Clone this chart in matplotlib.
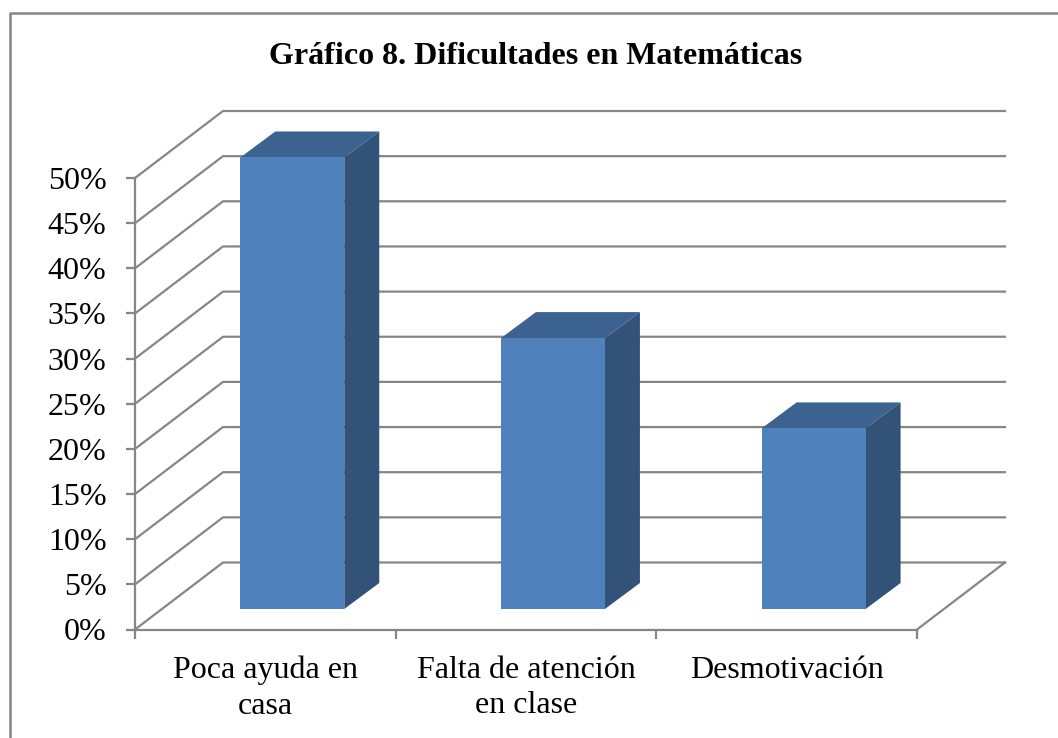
import matplotlib
matplotlib.use('Agg')
import matplotlib.pyplot as plt

categories = ['Poca ayuda en\ncasa', 'Falta de atención\nen clase', 'Desmotivación']
values = [50, 30, 20]
y_ticks = [0, 5, 10, 15, 20, 25, 30, 35, 40, 45, 50]

W, H = 1058, 738
GREY = '#868686'
FRONT = '#4F81BD'
TOP = '#3C6290'
SIDE = '#325278'

plt.rcParams['font.family'] = ['Liberation Serif', 'DejaVu Serif']

fig = plt.figure(figsize=(W / 100, H / 100), dpi=100)

# outer border, only top and left are in the picture
fig.add_artist(plt.Line2D([9.5 / W, 9.5 / W, 1], [0, 1 - 12.5 / H, 1 - 12.5 / H], color=GREY,
                          linewidth=1.8, transform=fig.transFigure))

# axes box is the front plane of the 3d chart
ax = fig.add_axes([135 / W, 1 - 629.5 / H, 782 / W, 451.5 / H])
ax.set_xlim(-0.5, 2.5)
ax.set_ylim(0, 50)
ax.patch.set_visible(False)

# depth of the floor, in data units
depth_x = 88 / 782 * 3
depth_y = 67 / 451.5 * 50

for y in y_ticks:
    ax.plot([-0.5, -0.5 + depth_x, 2.5 + depth_x], [y, y + depth_y, y + depth_y],
            color=GREY, lw=1.6, clip_on=False, zorder=1)
ax.plot([2.5, 2.5 + depth_x], [0, depth_y], color=GREY, lw=1.6, clip_on=False, zorder=1)

# bars stand part way into the floor
bar_w = 104 / 782 * 3
pos = 0.306
side_x = 35 / 782 * 3
side_y = 26 / 451.5 * 50
for i, v in enumerate(values):
    x0 = i + pos * depth_x - bar_w / 2
    x1 = x0 + bar_w
    y0 = pos * depth_y
    y1 = y0 + v
    ax.fill([x0, x1, x1 + side_x, x0 + side_x], [y1, y1, y1 + side_y, y1 + side_y],
            color=TOP, lw=0, clip_on=False, zorder=3)
    ax.fill([x1, x1 + side_x, x1 + side_x, x1], [y0, y0 + side_y, y1 + side_y, y1],
            color=SIDE, lw=0, clip_on=False, zorder=3)
    ax.fill([x0, x1, x1, x0], [y0, y0, y1, y1], color=FRONT, lw=0, clip_on=False, zorder=4)

for s in ['top', 'right']:
    ax.spines[s].set_visible(False)
for s in ['left', 'bottom']:
    ax.spines[s].set_color(GREY)
    ax.spines[s].set_linewidth(1.6)

ax.set_yticks(y_ticks)
ax.set_yticklabels([f'{y}%' for y in y_ticks], fontsize=23)
ax.set_xticks([-0.5, 0.5, 1.5, 2.5])
ax.set_xticklabels([])
ax.tick_params(axis='both', color=GREY, width=1.6, length=6.5, labelcolor='black')
ax.tick_params(axis='y', pad=14)

for i, c in enumerate(categories):
    ax.annotate(c, (i, 0), xytext=(0, -19), textcoords='offset points', ha='center', va='top',
                fontsize=23, linespacing=1.29)

fig.text(535.5 / W, 1 - 57 / H, 'Gráfico 8. Dificultades en Matemáticas', ha='center', va='center',
         fontsize=23, fontweight='bold')

fig.savefig('out.png', dpi=100)
